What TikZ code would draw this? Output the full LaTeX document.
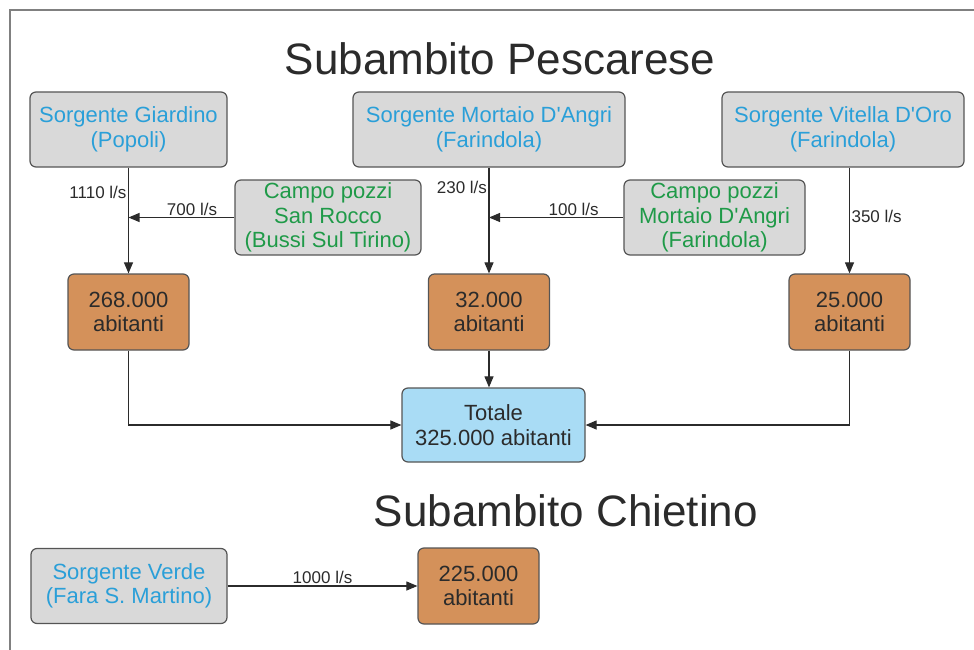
\documentclass[tikz,border=0pt]{standalone}
\usepackage{fontspec}
\setmainfont{Liberation Sans}
\usepackage{tikz}
\usetikzlibrary{arrows.meta,positioning}
\definecolor{ink}{HTML}{2B2B2B}
\definecolor{framegrey}{HTML}{808080}
\definecolor{edge}{HTML}{555555}
\definecolor{boxgrey}{HTML}{D9D9D9}
\definecolor{skyink}{HTML}{2A9FD8}
\definecolor{greenink}{HTML}{1F9A48}
\definecolor{clay}{HTML}{D4915A}
\definecolor{ice}{HTML}{A9DCF5}
\tikzset{
  >={Triangle[length=11pt,width=9pt]},
  base/.style={
    rounded corners=6pt, draw=edge, line width=1.2pt, align=center,
    inner sep=2pt, font=\fontsize{22}{24.5}\selectfont
  },
  srcbox/.style={base, fill=boxgrey, text=skyink, minimum height=75pt},
  wellbox/.style={base, fill=boxgrey, text=greenink, minimum height=75pt},
  popbox/.style={base, fill=clay, text=ink, minimum width=121pt, minimum height=76pt},
  totbox/.style={base, fill=ice, text=ink, minimum width=183pt, minimum height=74pt},
  title/.style={font=\fontsize{44}{50}\selectfont, text=ink},
  flow/.style={->, line width=1.1pt, draw=ink},
  tag/.style={font=\fontsize{17}{20}\selectfont, text=ink, inner sep=1.5pt}
}
\newcommand{\apo}{\textquotesingle}

\begin{document}
\begin{tikzpicture}[x=1pt,y=-1pt]
  \useasboundingbox (0,0) rectangle (974,650);
  \draw[framegrey, line width=2pt] (10,650) -- (10,10) -- (974,10);

  \node[title] (tpes) at (500,59) {Subambito Pescarese};
  \node[title] (tchi) at (566,511) {Subambito Chietino};

  \node[srcbox,  minimum width=197pt] (gia)    at (128.5,129.5) {Sorgente Giardino\\(Popoli)};
  \node[srcbox,  minimum width=272pt] (mor)    at (489,129.5)   {Sorgente Mortaio D\apo Angri\\(Farindola)};
  \node[srcbox,  minimum width=242pt] (vit)    at (843,129.5)   {Sorgente Vitella D\apo Oro\\(Farindola)};
  \node[wellbox, minimum width=186pt] (srocco) at (328,217.5)   {Campo pozzi\\San Rocco\\(Bussi Sul Tirino)};
  \node[wellbox, minimum width=181pt] (cmor)   at (714.5,217.5) {Campo pozzi\\Mortaio D\apo Angri\\(Farindola)};

  \node[popbox] (b268) at (128.5,312) {268.000\\abitanti};
  \node[popbox] (b32)  at (489,312)   {32.000\\abitanti};
  \node[popbox] (b25)  at (849.5,312) {25.000\\abitanti};
  \node[totbox] (tot)  at (493.5,425) {Totale\\325.000 abitanti};

  \node[srcbox, minimum width=196pt] (verde) at (129,586) {Sorgente Verde\\(Fara S. Martino)};
  \node[popbox] (b225) at (478.5,586) {225.000\\abitanti};

  \draw[flow] (gia) -- node[tag, left, pos=0.23] {1110 l/s} (b268);
  \draw[flow] (mor) -- node[tag, left, pos=0.19] {230 l/s} (b32);
  \draw[flow] (vit.south -| b25) -- node[tag, right, pos=0.46] {350 l/s} (b25);
  \draw[flow] (srocco) -- node[tag, above, pos=0.4] {700 l/s} (srocco -| gia);
  \draw[flow] (cmor) -- node[tag, above, pos=0.37] {100 l/s} (cmor -| mor);

  \draw[flow] (b32) -- (b32 |- tot.north);
  \draw[flow] (b268) |- (tot);
  \draw[flow] (b25) |- (tot);

  \draw[flow] (verde) -- node[tag, above] {1000 l/s} (b225);
\end{tikzpicture}
\end{document}
